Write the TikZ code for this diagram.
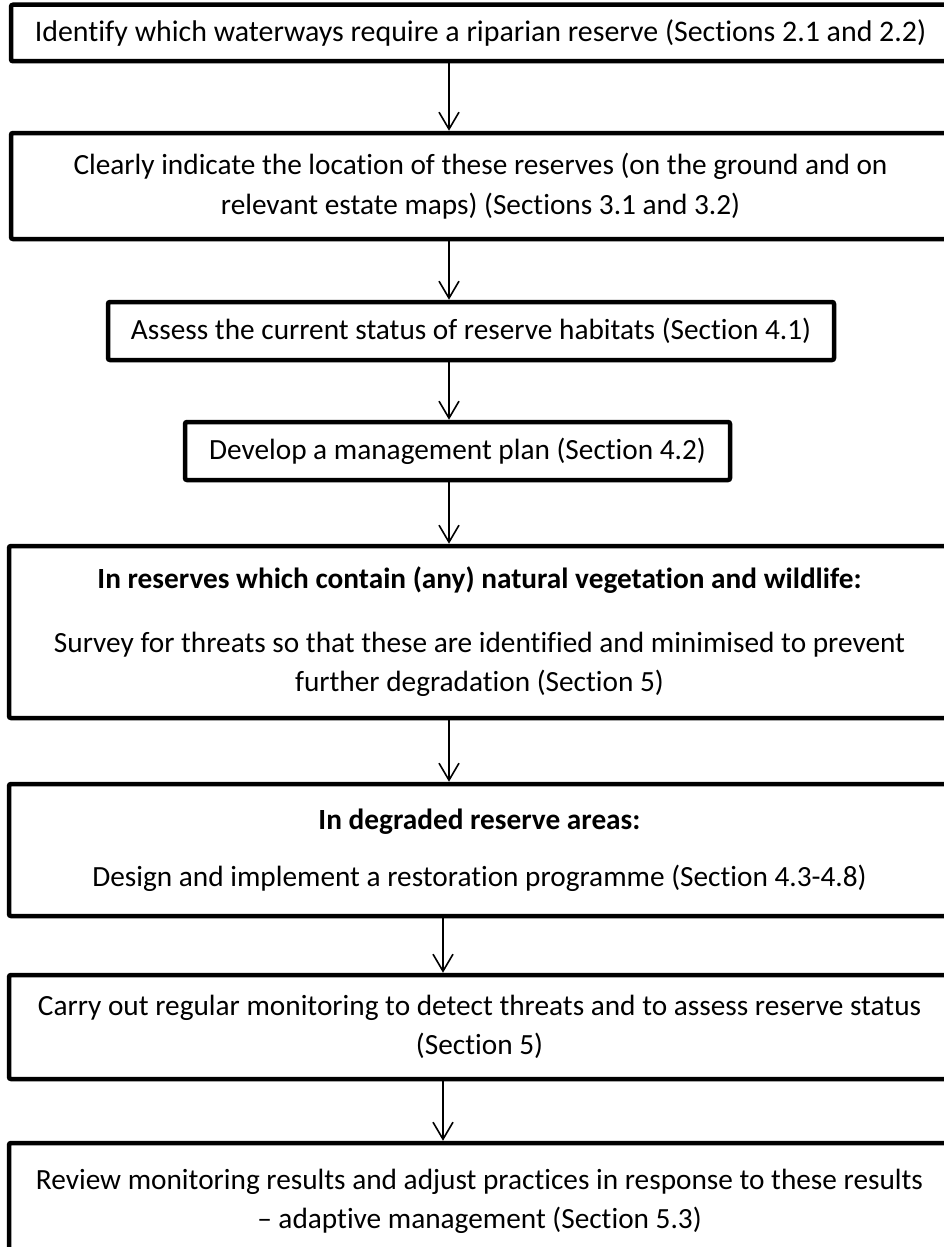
\documentclass[tikz,border=0pt]{standalone}
\usepackage{fontspec}
\setmainfont{Carlito}[Ligatures=NoCommon]
\usetikzlibrary{arrows.meta}
\begin{document}
\begin{tikzpicture}[x=1pt,y=-1pt,
  box/.style={draw, line width=4.5pt, rounded corners=2pt, inner sep=0pt,
    align=center, font=\fontsize{29.3}{39.5}\selectfont, anchor=center},
  arr/.style={line width=1.6pt, -{Straight Barb[length=17pt,width=20pt,line width=1.6pt]}}]
\useasboundingbox (0,0) rectangle (944,1247);
\node[box, minimum width=939pt, minimum height=56.5pt, font=\fontsize{29.9}{39.5}\selectfont] (b1) at (480.5,33)
  {Identify which waterways require a riparian reserve (Sections 2.1 and 2.2)};
\node[box, minimum width=939pt, minimum height=106pt] (b2) at (480.5,186)
  {Clearly indicate the location of these reserves (on the ground and on\\relevant estate maps) (Sections 3.1 and 3.2)};
\node[box, minimum width=726pt, minimum height=58pt] (b3) at (471,331)
  {Assess the current status of reserve habitats (Section 4.1)};
\node[box, minimum width=545pt, minimum height=58pt] (b4) at (457.5,451)
  {Develop a management plan (Section 4.2)};
\node[box, minimum width=941pt, minimum height=172pt] (b5) at (479.5,632)
  {\textbf{In reserves which contain (any) natural vegetation and wildlife:}\\[24pt]Survey for threats so that these are identified and minimised to prevent\\further degradation (Section 5)};
\node[box, minimum width=941pt, minimum height=132pt] (b6) at (479.5,850)
  {\textbf{In degraded reserve areas:}\\[18pt]Design and implement a restoration programme (Section 4.3-4.8)};
\node[box, minimum width=941pt, minimum height=104pt] (b7) at (479.5,1027)
  {Carry out regular monitoring to detect threats and to assess reserve status\\(Section 5)};
\node[box, minimum width=941pt, minimum height=117pt] (b8) at (479.5,1201.5)
  {Review monitoring results and adjust practices in response to these results\\– adaptive management (Section 5.3)};
\coordinate (ax) at (449,0);
\coordinate (bx) at (443,0);
\draw[arr] (b1.south -| ax) -- (b2.north -| ax);
\draw[arr] (b2.south -| ax) -- (b3.north -| ax);
\draw[arr] (b3.south -| ax) -- (b4.north -| ax);
\draw[arr] (b4.south -| ax) -- (b5.north -| ax);
\draw[arr] (b5.south -| ax) -- (b6.north -| ax);
\draw[arr] (b6.south -| bx) -- (b7.north -| bx);
\draw[arr] (b7.south -| bx) -- (b8.north -| bx);
\end{tikzpicture}
\end{document}
